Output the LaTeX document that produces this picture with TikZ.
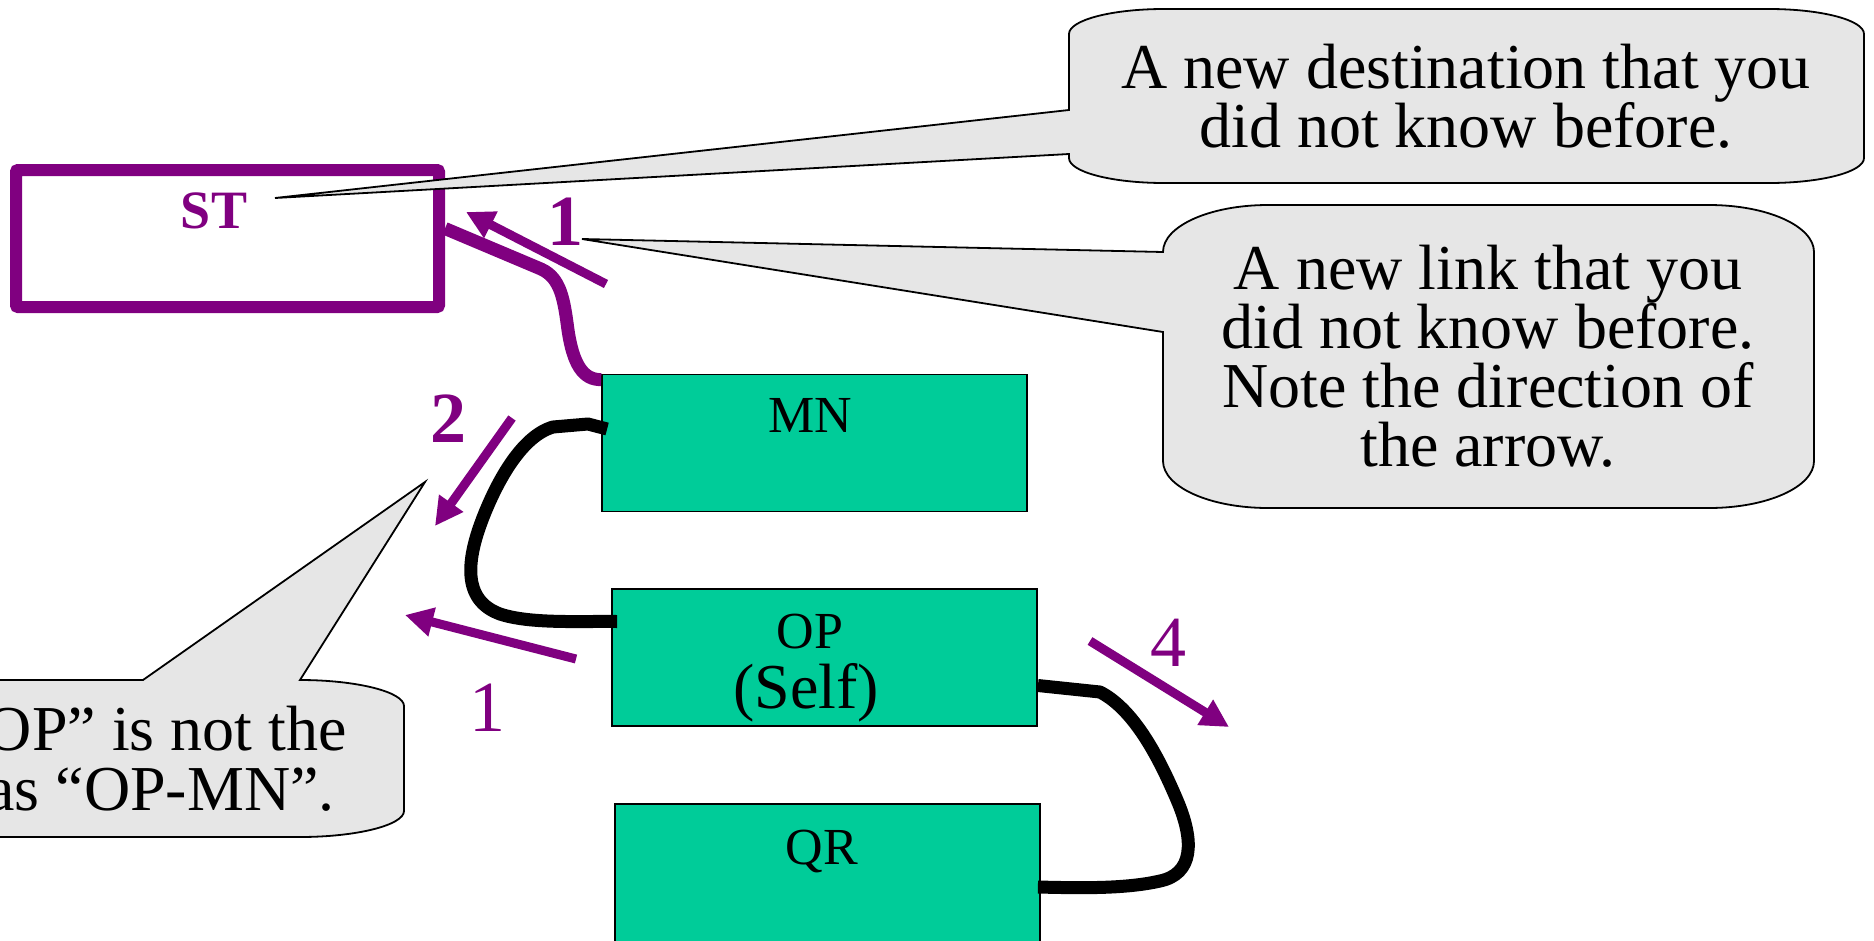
\documentclass[tikz,border=0pt]{standalone}
\usepackage{fontspec}
\setmainfont{Liberation Serif}
\usetikzlibrary{arrows.meta}
\definecolor{pur}{HTML}{800080}
\definecolor{boxgreen}{HTML}{00CC99}
\definecolor{callgray}{HTML}{E6E6E6}
\begin{document}
\begin{tikzpicture}[x=1pt,y=-1pt,
  stbox/.style={draw=pur,line width=12pt,rounded corners=2pt,minimum width=423pt,minimum height=137pt,inner sep=0pt},
  nodebox/.style={draw=black,line width=1.8pt,fill=boxgreen,inner sep=0pt,minimum width=425pt,minimum height=137pt},
  lbl/.style={inner sep=0pt,anchor=base,font=\fontsize{52}{52}\selectfont},
  calltext/.style={inner sep=0pt,anchor=base,align=center,font=\fontsize{64}{59}\selectfont},
  callout/.style={draw=black,line width=1.8pt,fill=callgray,line join=miter},
  link/.style={line width=13pt,line join=round},
  parrow/.style={draw=pur,line width=9pt,-{Triangle[length=28pt,width=28pt]}},
  num/.style={text=pur,inner sep=0pt,anchor=base,font=\fontsize{72}{72}\selectfont},
  bnum/.style={num,font=\bfseries\fontsize{72}{72}\selectfont}]

\clip (0,0) rectangle (1874,940);
\fill[white] (0,0) rectangle (1874,940);

% boxes
\node[stbox] (st) at (227.5,238.5) {};
\node[nodebox] (mn) at (814.5,443) {};
\node[nodebox] (op) at (824.5,657.5) {};
\node[nodebox,minimum height=150pt] (qr) at (827.5,879) {};

\node[lbl,text=pur,font=\bfseries\fontsize{54}{54}\selectfont] (stt) at (214,228) {ST};
\node[lbl] (mnt) at (810,432) {MN};
\node[lbl] (opt) at (810,648) {OP};
\node[lbl,font=\fontsize{64}{64}\selectfont] (selft) at (806,708) {(Self)};
\node[lbl] (qrt) at (822,864) {QR};

% links
\draw[link,pur] ([yshift=10pt]st.east) -- (541,269)
  .. controls (561,278) and (564,300) .. (568,330)
  .. controls (573,364) and (583,380) .. ([yshift=-6pt]mn.north west);
\draw[link] ([xshift=6pt,yshift=14pt]mn.west) -- (588,424) -- (553,427)
  .. controls (522,436) and (498,480) .. (484,515)
  .. controls (466,560) and (462,600) .. (500,614)
  .. controls (530,624) and (580,621) .. ([xshift=6pt,yshift=36pt]op.west);
\draw[link] ([yshift=-28pt]op.east) -- (1100,692)
  .. controls (1135,710) and (1160,760) .. (1177,800)
  .. controls (1195,842) and (1193,874) .. (1160,881)
  .. controls (1125,889) and (1080,888) .. ([xshift=-3pt,yshift=-8pt]qr.east);

% purple arrows
\coordinate (a1s) at (606,284); \coordinate (a1e) at (466,212);
\coordinate (a2s) at (512,418); \coordinate (a2e) at (435,526);
\coordinate (a3s) at (576,659); \coordinate (a3e) at (405,615);
\coordinate (a4s) at (1090,641); \coordinate (a4e) at (1229,727);
\draw[parrow] (a1s) -- (a1e);
\draw[parrow] (a2s) -- (a2e);
\draw[parrow] (a3s) -- (a3e);
\draw[parrow] (a4s) -- (a4e);

\node[bnum] (n1) at (565,245) {1};
\node[bnum] (n2) at (448,442) {2};
\node[num] (n3) at (487,731) {1};
\node[num] (n4) at (1168,666) {4};

% callouts
\coordinate (t1) at (275,198);
\coordinate (t2) at (582,239);
\coordinate (t3) at (425,482);
\draw[callout] (1069,34) .. controls (1069,20) and (1112,9) .. (1164,9)
  -- (1769,9) .. controls (1821,9) and (1864,20) .. (1864,34)
  -- (1864,158) .. controls (1864,172) and (1821,183) .. (1769,183)
  -- (1164,183) .. controls (1112,183) and (1069,172) .. (1069,158)
  -- (1069,154) -- (t1) -- (1069,110) -- cycle;
\draw[callout] (1163,252) .. controls (1163,226) and (1210,205) .. (1268,205)
  -- (1709,205) .. controls (1767,205) and (1814,226) .. (1814,252)
  -- (1814,461) .. controls (1814,487) and (1767,508) .. (1709,508)
  -- (1268,508) .. controls (1210,508) and (1163,487) .. (1163,461)
  -- (1163,332) -- (t2) -- cycle;
\draw[callout] (-300,680) -- (143,680) -- (t3) -- (300,680)
  .. controls (357,680) and (404,692) .. (404,706)
  -- (404,811) .. controls (404,825) and (357,837) .. (300,837)
  -- (-300,837) -- cycle;

\node[calltext] (c1) at (1466,147) {A new destination that you\\did not know before.};
\node[calltext] (c2) at (1488,466) {A new link that you\\did not know before.\\Note the direction of\\the arrow.};
\node[calltext,anchor=base east] (c3a) at (347,750) {OP” is not the};
\node[calltext,anchor=base east] (c3b) at (335,810) {as “OP-MN”.};
\end{tikzpicture}
\end{document}
